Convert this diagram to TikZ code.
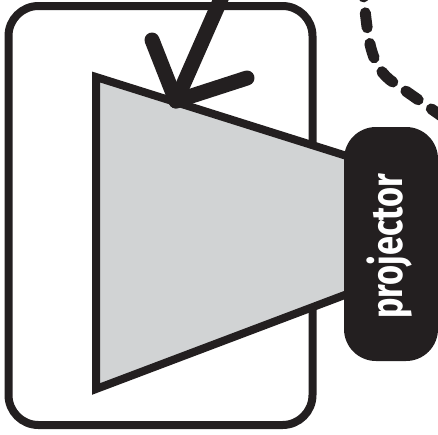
\documentclass[tikz,border=0pt]{standalone}
\usepackage{fontspec}
\setmainfont{Fira Sans}
\usepackage{tikz}
\usetikzlibrary{positioning,calc}
\definecolor{inkblack}{HTML}{231F20}
\definecolor{lensgray}{HTML}{D1D3D4}
\begin{document}
\begin{tikzpicture}[x=1pt, y=-1pt, line join=miter,
  frm/.style={draw=inkblack, line width=8pt, rounded corners=30pt, minimum width=304pt, minimum height=419pt, inner sep=0pt},
  prj/.style={fill=inkblack, rounded corners=32pt, minimum width=94pt, minimum height=234pt, inner sep=0pt},
  lbl/.style={text=white, font=\fontsize{44}{44}\selectfont\bfseries, rotate=90, inner sep=0pt},
  ray/.style={draw=inkblack, line width=15pt, line cap=round, line join=round},
  dsh/.style={draw=inkblack, line width=11pt, line cap=round, dash pattern=on 15pt off 16pt}]
\useasboundingbox (0,0) rectangle (438,434);
% frame and beam
\node[frm] (frame) at (160.5,215.5) {};
\filldraw[draw=inkblack, fill=lensgray, line width=8pt] (96,77) -- (350,157) -- (350,293) -- (96,389) -- cycle;
% projector
\node[prj] (box) at (391,244) {};
\node[lbl] (name) at (390,246.5) {\scalebox{.78}[1]{projector}};
% arrow
\coordinate (tip) at (176,101);
\coordinate (tail) at (224,-8);
\coordinate (barbl) at (152,40);
\coordinate (barbr) at (247,78);
\draw[ray] (tail) -- (tip);
\draw[ray] (barbl) -- (tip) -- (barbr);
% dashed path
\coordinate (dstart) at (362,-18);
\coordinate (dend) at (450,122);
\draw[dsh] (dstart) .. controls (368,35) and (368,62) .. (390,80) -- (dend);
\end{tikzpicture}
\end{document}
